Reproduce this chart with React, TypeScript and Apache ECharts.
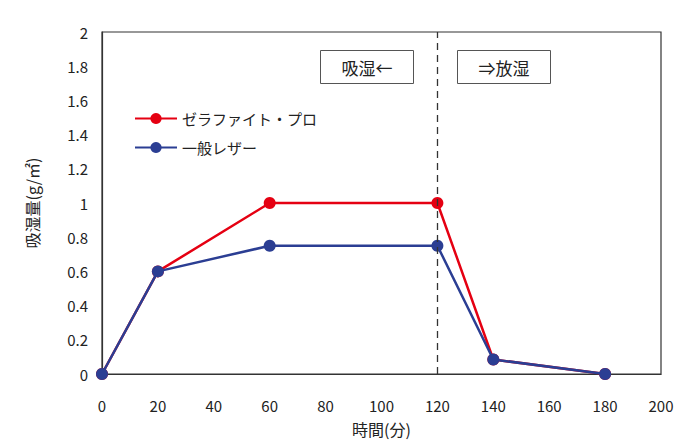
import { useRef, useEffect } from 'react'
import * as echarts from 'echarts'

const timeMinutes = [0, 20, 60, 120, 140, 180]
const zeraphiteValues = [0, 0.6, 1, 1, 0.085, 0]
const leatherValues = [0, 0.6, 0.75, 0.75, 0.085, 0]
const seriesNames = ['ゼラファイト・プロ', '一般レザー']
const boundaryMinute = 120

const FONT = '"Noto Sans CJK JP", "Noto Sans", sans-serif'
const RED = '#e50012'
const BLUE = '#2b3e93'

export default function App() {
  const chartRef = useRef<HTMLDivElement>(null)

  useEffect(() => {
    if (!chartRef.current) return
    const chart = echarts.init(chartRef.current, null, { renderer: 'svg' })

    const toPairs = (vals: number[]) => timeMinutes.map((t, i) => [t, vals[i]])

    // 吸湿/放湿 の注記ボックス
    const noteBox = (x: number, label: string) => ({
      type: 'group',
      left: x,
      top: 50,
      children: [
        {
          type: 'rect',
          shape: { x: 0, y: 0, width: 93, height: 33 },
          style: { fill: '#fff', stroke: '#555', lineWidth: 1 }
        },
        {
          type: 'text',
          x: 46.5,
          y: 17,
          style: {
            text: label,
            font: `17px ${FONT}`,
            fill: '#222',
            align: 'center',
            verticalAlign: 'middle'
          }
        }
      ]
    })

    chart.setOption({
      animation: false,
      textStyle: { fontFamily: FONT },
      grid: {
        left: 102,
        right: 39,
        top: 32,
        bottom: 74,
        show: true,
        borderColor: '#333',
        borderWidth: 1.2,
        backgroundColor: 'transparent'
      },
      legend: {
        orient: 'vertical',
        left: 129,
        top: 106,
        itemWidth: 42,
        itemHeight: 14,
        itemGap: 14,
        data: seriesNames,
        textStyle: { fontSize: 15, color: '#222', fontFamily: FONT }
      },
      xAxis: {
        type: 'value',
        min: 0,
        max: 200,
        interval: 20,
        name: '時間(分)',
        nameLocation: 'middle',
        nameGap: 47,
        nameTextStyle: { fontSize: 16, color: '#222' },
        axisLine: { lineStyle: { color: '#333', width: 1.2 } },
        axisTick: { show: false },
        splitLine: { show: false },
        axisLabel: { fontSize: 15, color: '#222', margin: 24 }
      },
      yAxis: {
        type: 'value',
        min: 0,
        max: 2,
        interval: 0.2,
        name: '吸湿量(g/㎡)',
        nameLocation: 'middle',
        nameGap: 62,
        nameTextStyle: { fontSize: 16, color: '#222' },
        axisLine: { show: true, lineStyle: { color: '#333', width: 1.2 } },
        axisTick: { show: false },
        splitLine: { show: false },
        axisLabel: {
          fontSize: 15,
          color: '#222',
          margin: 14,
          formatter: (v: number) => String(Math.round(v * 10) / 10)
        }
      },
      series: [
        {
          name: seriesNames[0],
          type: 'line',
          data: toPairs(zeraphiteValues),
          symbol: 'circle',
          symbolSize: 12,
          itemStyle: { color: RED },
          lineStyle: { color: RED, width: 2.5 },
          z: 2,
          markLine: {
            silent: true,
            symbol: 'none',
            label: { show: false },
            lineStyle: { color: '#333', type: [7, 5], width: 1.3 },
            data: [{ xAxis: boundaryMinute }]
          }
        },
        {
          name: seriesNames[1],
          type: 'line',
          data: toPairs(leatherValues),
          symbol: 'circle',
          symbolSize: 12,
          itemStyle: { color: BLUE },
          lineStyle: { color: BLUE, width: 2.5 },
          z: 3
        }
      ],
      graphic: [noteBox(320, '吸湿←'), noteBox(457, '⇒放湿')]
    })

    return () => {
      chart.dispose()
    }
  }, [])

  return <div ref={chartRef} style={{ width: 700, height: 448, margin: -8 }} />
}
